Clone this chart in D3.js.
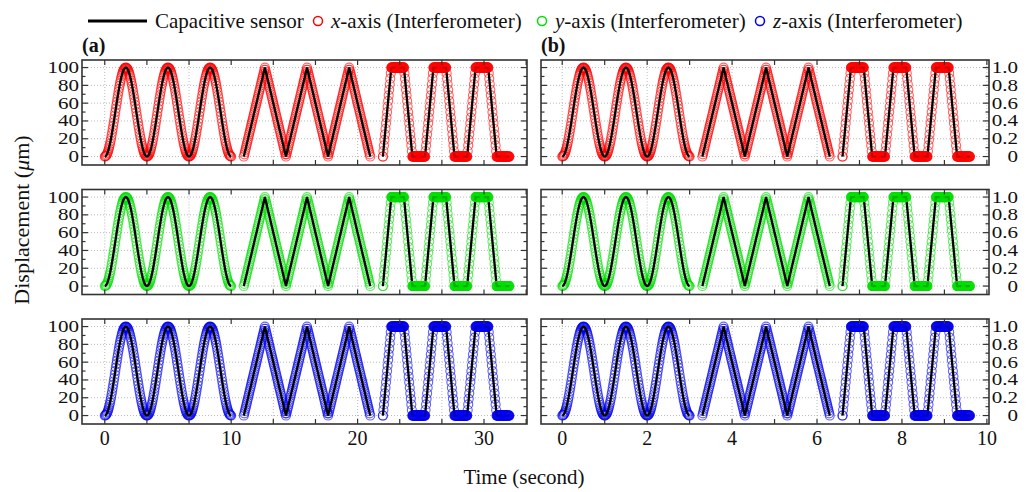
<!DOCTYPE html>
<html>
<head>
<meta charset="utf-8">
<script src="https://cdn.jsdelivr.net/npm/d3@7"></script>
<style>
body { margin: 0; background: #fff; }
svg { display: block; }
svg text { font-family: "Liberation Serif", "Times New Roman", Times, serif; fill: #111; }
</style>
</head>
<body>
<svg id="chart" width="1032" height="492"></svg>
<script>
// Data (displacement in um, one sample every 0.0125 s of panel (b) time)

var segStartB = [0, 3.3, 6.6];
var segStartA = [0, 11, 22];
var stepB = 0.0125;
var stepA = 0.0125 * 10 / 3;

var dispSine = [
  0,0.2,0.6,1.4,2.4,3.8,5.4,7.4,9.5,12,14.6,17.5,20.6,23.9,27.3,30.9,34.5,38.3,42.2,46.1,50,53.9,57.8,61.7,65.5,69.1,72.7,76.1,79.4,82.5,85.4,88,90.5,92.6,94.5,96.2,97.6,98.6,99.4,99.8,100,99.8,99.4,98.6,97.6,96.2,94.5,92.6,90.5,88,85.4,82.5,79.4,76.1,72.7,69.1,65.5,61.7,57.8,53.9,50,46.1,42.2,38.3,34.5,30.9,27.3,23.9,20.6,17.5,14.6,12,9.5,7.4,5.4,3.8,2.4,1.4,0.6,0.2,
  0,0.2,0.6,1.4,2.4,3.8,5.4,7.4,9.5,12,14.6,17.5,20.6,23.9,27.3,30.9,34.5,38.3,42.2,46.1,50,53.9,57.8,61.7,65.5,69.1,72.7,76.1,79.4,82.5,85.4,88,90.5,92.6,94.5,96.2,97.6,98.6,99.4,99.8,100,99.8,99.4,98.6,97.6,96.2,94.5,92.6,90.5,88,85.4,82.5,79.4,76.1,72.7,69.1,65.5,61.7,57.8,53.9,50,46.1,42.2,38.3,34.5,30.9,27.3,23.9,20.6,17.5,14.6,12,9.5,7.4,5.4,3.8,2.4,1.4,0.6,0.2,
  0,0.2,0.6,1.4,2.4,3.8,5.4,7.4,9.5,12,14.6,17.5,20.6,23.9,27.3,30.9,34.5,38.3,42.2,46.1,50,53.9,57.8,61.7,65.5,69.1,72.7,76.1,79.4,82.5,85.4,88,90.5,92.6,94.5,96.2,97.6,98.6,99.4,99.8,100,99.8,99.4,98.6,97.6,96.2,94.5,92.6,90.5,88,85.4,82.5,79.4,76.1,72.7,69.1,65.5,61.7,57.8,53.9,50,46.1,42.2,38.3,34.5,30.9,27.3,23.9,20.6,17.5,14.6,12,9.5,7.4,5.4,3.8,2.4,1.4,0.6,0.2,
  0
];
var dispTri = [
  0,2.5,5,7.5,10,12.5,15,17.5,20,22.5,25,27.5,30,32.5,35,37.5,40,42.5,45,47.5,50,52.5,55,57.5,60,62.5,65,67.5,70,72.5,75,77.5,80,82.5,85,87.5,90,92.5,95,97.5,100,97.5,95,92.5,90,87.5,85,82.5,80,77.5,75,72.5,70,67.5,65,62.5,60,57.5,55,52.5,50,47.5,45,42.5,40,37.5,35,32.5,30,27.5,25,22.5,20,17.5,15,12.5,10,7.5,5,2.5,
  0,2.5,5,7.5,10,12.5,15,17.5,20,22.5,25,27.5,30,32.5,35,37.5,40,42.5,45,47.5,50,52.5,55,57.5,60,62.5,65,67.5,70,72.5,75,77.5,80,82.5,85,87.5,90,92.5,95,97.5,100,97.5,95,92.5,90,87.5,85,82.5,80,77.5,75,72.5,70,67.5,65,62.5,60,57.5,55,52.5,50,47.5,45,42.5,40,37.5,35,32.5,30,27.5,25,22.5,20,17.5,15,12.5,10,7.5,5,2.5,
  0,2.5,5,7.5,10,12.5,15,17.5,20,22.5,25,27.5,30,32.5,35,37.5,40,42.5,45,47.5,50,52.5,55,57.5,60,62.5,65,67.5,70,72.5,75,77.5,80,82.5,85,87.5,90,92.5,95,97.5,100,97.5,95,92.5,90,87.5,85,82.5,80,77.5,75,72.5,70,67.5,65,62.5,60,57.5,55,52.5,50,47.5,45,42.5,40,37.5,35,32.5,30,27.5,25,22.5,20,17.5,15,12.5,10,7.5,5,2.5,
  0
];
var dispTrap = [
  0,6.25,12.5,18.75,25,31.25,37.5,43.75,50,56.25,62.5,68.75,75,81.25,87.5,93.75,100,100,100,100,100,100,100,100,100,100,100,100,100,100,100,100,100,100,100,100,100,100,100,100,100,93.75,87.5,81.25,75,68.75,62.5,56.25,50,43.75,37.5,31.25,25,18.75,12.5,6.25,0,0,0,0,0,0,0,0,0,0,0,0,0,0,0,0,0,0,0,0,0,0,0,0,
  0,6.25,12.5,18.75,25,31.25,37.5,43.75,50,56.25,62.5,68.75,75,81.25,87.5,93.75,100,100,100,100,100,100,100,100,100,100,100,100,100,100,100,100,100,100,100,100,100,100,100,100,100,93.75,87.5,81.25,75,68.75,62.5,56.25,50,43.75,37.5,31.25,25,18.75,12.5,6.25,0,0,0,0,0,0,0,0,0,0,0,0,0,0,0,0,0,0,0,0,0,0,0,0,
  0,6.25,12.5,18.75,25,31.25,37.5,43.75,50,56.25,62.5,68.75,75,81.25,87.5,93.75,100,100,100,100,100,100,100,100,100,100,100,100,100,100,100,100,100,100,100,100,100,100,100,100,100,93.75,87.5,81.25,75,68.75,62.5,56.25,50,43.75,37.5,31.25,25,18.75,12.5,6.25,0,0,0,0,0,0,0,0,0,0,0,0,0,0,0,0,0,0,0,0,0,0,0,0,
  0
];
var segments = [dispSine, dispTri, dispTrap];

var axisNames = ["x", "y", "z"];
var axisColors = ["#ff0000", "#00e000", "#0000f0"];

var yTicks = [0, 20, 40, 60, 80, 100];
var yMinorTicks = [10, 30, 50, 70, 90];
var rightLabels = ["0", "0.2", "0.4", "0.6", "0.8", "1.0"];

var xLabelsA = [0, 10, 20, 30];
var xLabelsB = [0, 2, 4, 6, 8, 10];

// Layout

var svg = d3.select("#chart");
var rowTops = [60, 189.5, 319];
var rowH = 105;

var panels = [
  {name: "(a)", x0: 82, x1: 527, domain: [-1.8, 33.4], starts: segStartA, step: stepA,
   ticks: d3.range(0, 34, 10 / 3), grid: d3.range(0, 33, 20 / 3), labels: xLabelsA},
  {name: "(b)", x0: 541, x1: 989, domain: [-0.5, 10.05], starts: segStartB, step: stepB,
   ticks: d3.range(0, 10.01, 1), grid: d3.range(0, 10.01, 2), labels: xLabelsB}
];

function addMarkers(sel, pts, x, y, color) {
  sel.append("g").selectAll("circle").data(pts).enter().append("circle")
    .attr("cx", function(d) { return x(d[0]); })
    .attr("cy", function(d) { return y(d[1]); })
    .attr("r", 4.5)
    .attr("fill", "none")
    .attr("stroke", color)
    .attr("stroke-opacity", 0.6)
    .attr("stroke-width", 1.15);
}

panels.forEach(function(p, pi) {
  var x = d3.scaleLinear().domain(p.domain).range([p.x0, p.x1]);

  rowTops.forEach(function(top, ri) {
    var y = d3.scaleLinear().domain([-9.5, 108.5]).range([top + rowH, top]);
    var g = svg.append("g");
    var color = axisColors[ri];
    var line = d3.line().x(function(d) { return x(d[0]); }).y(function(d) { return y(d[1]); });

    // grid
    g.selectAll(".gx").data(p.grid).enter().append("line")
      .attr("x1", function(d) { return x(d); }).attr("x2", function(d) { return x(d); })
      .attr("y1", top).attr("y2", top + rowH)
      .attr("stroke", "#aaa").attr("stroke-width", 0.8).attr("stroke-dasharray", "1,2");
    g.selectAll(".gy").data(yTicks).enter().append("line")
      .attr("x1", p.x0).attr("x2", p.x1)
      .attr("y1", function(d) { return y(d); }).attr("y2", function(d) { return y(d); })
      .attr("stroke", "#aaa").attr("stroke-width", 0.8).attr("stroke-dasharray", "1,2");

    // interferometer markers with the capacitive sensor line on top
    segments.forEach(function(vals, si) {
      var pts = vals.map(function(v, i) { return [p.starts[si] + i * p.step, v]; });
      var sg = g.append("g");
      addMarkers(sg, pts, x, y, color);
      sg.append("path").datum(pts).attr("d", line)
        .attr("fill", "none").attr("stroke", "#000").attr("stroke-width", 2.3);
      // the square-wave plateaus pile up into a solid band that hides the line
      if (si === 2) {
        addMarkers(sg, pts.filter(function(d) { return d[1] === 0 || d[1] === 100; }), x, y, color);
      }
    });

    // ticks, inward on all sides
    var tk = g.append("g").attr("stroke", "#333").attr("stroke-width", 1.2);
    yTicks.forEach(function(d) {
      tk.append("line").attr("x1", p.x0).attr("x2", p.x0 + 6).attr("y1", y(d)).attr("y2", y(d));
      tk.append("line").attr("x1", p.x1).attr("x2", p.x1 - 6).attr("y1", y(d)).attr("y2", y(d));
    });
    yMinorTicks.forEach(function(d) {
      tk.append("line").attr("x1", p.x0).attr("x2", p.x0 + 3.5).attr("y1", y(d)).attr("y2", y(d));
      tk.append("line").attr("x1", p.x1).attr("x2", p.x1 - 3.5).attr("y1", y(d)).attr("y2", y(d));
    });
    p.ticks.forEach(function(d) {
      tk.append("line").attr("x1", x(d)).attr("x2", x(d)).attr("y1", top).attr("y2", top + 5);
      tk.append("line").attr("x1", x(d)).attr("x2", x(d)).attr("y1", top + rowH).attr("y2", top + rowH - 5);
    });

    // frame
    g.append("rect").attr("x", p.x0).attr("y", top).attr("width", p.x1 - p.x0).attr("height", rowH)
      .attr("fill", "none").attr("stroke", "#333").attr("stroke-width", 1.6);

    // y tick labels (squashed vertically like the source figure)
    if (pi === 0) {
      g.selectAll(".yl").data(yTicks).enter().append("text")
        .attr("transform", function(d) { return "translate(" + (p.x0 - 3) + "," + y(d) + ") scale(1,0.75)"; })
        .attr("dy", "0.35em").attr("text-anchor", "end").attr("font-size", 21)
        .text(function(d) { return d; });
    } else {
      g.selectAll(".yr").data(yTicks).enter().append("text")
        .attr("transform", function(d) { return "translate(" + (p.x1 + 29) + "," + y(d) + ") scale(1,0.75)"; })
        .attr("dy", "0.35em").attr("text-anchor", "end").attr("font-size", 21)
        .text(function(d, i) { return rightLabels[i]; });
    }

    // x tick labels on the bottom row
    if (ri === 2) {
      g.selectAll(".xl").data(p.labels).enter().append("text")
        .attr("x", function(d) { return x(d); }).attr("y", top + rowH + 21)
        .attr("text-anchor", "middle").attr("font-size", 20)
        .text(function(d) { return d; });
    }
  });

  svg.append("text").attr("x", p.x0).attr("y", 52)
    .attr("font-size", 20).attr("font-weight", "bold").text(p.name);
});

// axis titles
svg.append("text").attr("transform", "translate(29,220) rotate(-90)")
  .attr("text-anchor", "middle").attr("font-size", 22)
  .html('Displacement (<tspan font-style="italic">&#956;</tspan>m)');
svg.append("text").attr("x", 524).attr("y", 484)
  .attr("text-anchor", "middle").attr("font-size", 21).text("Time (second)");

// legend
var lg = svg.append("g");
lg.append("line").attr("x1", 88).attr("x2", 147).attr("y1", 21).attr("y2", 21)
  .attr("stroke", "#000").attr("stroke-width", 3);
lg.append("text").attr("x", 155).attr("y", 28).attr("font-size", 21).text("Capacitive sensor");
var legX = [318, 542, 760];
axisNames.forEach(function(n, i) {
  lg.append("circle").attr("cx", legX[i]).attr("cy", 21).attr("r", 4.5)
    .attr("fill", "none").attr("stroke", axisColors[i]).attr("stroke-width", 1.5);
  lg.append("text").attr("x", legX[i] + 13).attr("y", 28).attr("font-size", 21)
    .html('<tspan font-style="italic">' + n + '</tspan>-axis (Interferometer)');
});
</script>
</body>
</html>
